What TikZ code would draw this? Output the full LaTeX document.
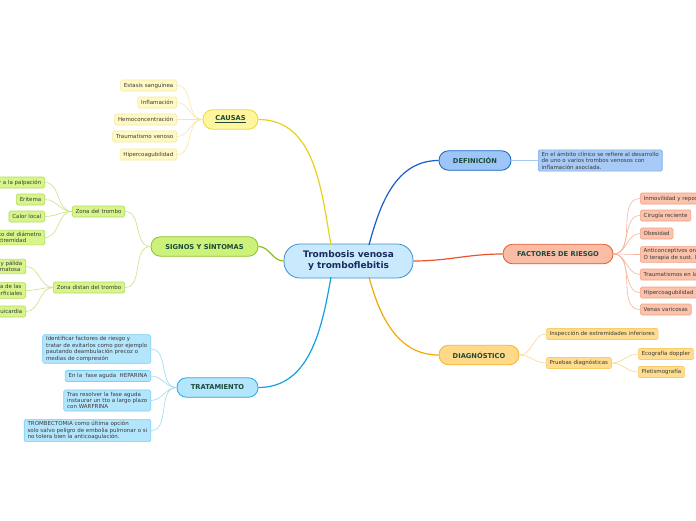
\documentclass[tikz,border=0pt]{standalone}
\usepackage{fontspec}
\setmainfont{DejaVu Sans}
\definecolor{dkgreen}{HTML}{1B4A3A}
\definecolor{navy}{HTML}{1A2A5E}
\definecolor{txt}{HTML}{3A3A3A}
% yellow
\definecolor{yB}{HTML}{FFF59D}\definecolor{yD}{HTML}{E8D84A}\definecolor{yL}{HTML}{FFF9C4}\definecolor{yLD}{HTML}{F5E9A0}\definecolor{yC}{HTML}{E6D31C}
% green
\definecolor{gB}{HTML}{CCF27A}\definecolor{gD}{HTML}{8FC22E}\definecolor{gL}{HTML}{D7F58A}\definecolor{gLD}{HTML}{B3DD5A}\definecolor{gC}{HTML}{8DBE1A}\definecolor{gLC}{HTML}{C8E288}
% cyan
\definecolor{cB}{HTML}{B3E5FC}\definecolor{cD}{HTML}{2AA8E4}\definecolor{cLD}{HTML}{7FCFF3}\definecolor{cC}{HTML}{12A0E0}\definecolor{cLC}{HTML}{9ED9F5}
% blue
\definecolor{bB}{HTML}{9EC5F7}\definecolor{bD}{HTML}{1565C0}\definecolor{bL}{HTML}{A8CAF7}\definecolor{bLD}{HTML}{78AAEE}\definecolor{bC}{HTML}{1560C8}\definecolor{bLC}{HTML}{A9C9F3}
% orange-red
\definecolor{rB}{HTML}{F9BCA5}\definecolor{rD}{HTML}{E85A2C}\definecolor{rL}{HTML}{FBC2AC}\definecolor{rLD}{HTML}{F59F80}\definecolor{rC}{HTML}{E9552A}\definecolor{rLC}{HTML}{F8B49C}
% orange
\definecolor{oB}{HTML}{FFD98A}\definecolor{oD}{HTML}{F5B52C}\definecolor{oL}{HTML}{FFDC8E}\definecolor{oLD}{HTML}{F9CB6B}\definecolor{oC}{HTML}{F5A800}\definecolor{oLC}{HTML}{FBD690}
\definecolor{cen}{HTML}{C8EAFC}\definecolor{cenD}{HTML}{3D8FD1}
\begin{document}
\begin{tikzpicture}[x=1pt,y=1pt,
  leaf/.style={draw, rounded corners=1.5pt, line width=0.6pt, inner xsep=3.4pt, inner ysep=2pt,
     minimum height=11pt, font=\fontsize{5.5}{6.4}\selectfont, align=left, text=txt},
  branch/.style={draw, rounded corners=9.5pt, line width=0.8pt, minimum height=19.5pt,
     inner xsep=2pt, font=\fontsize{6.7}{7.5}\selectfont\bfseries, text=dkgreen},
  central/.style={draw, rounded corners=16pt, line width=0.8pt, fill=cen, draw=cenD,
     minimum width=129pt, minimum height=34pt, align=center, text=navy,
     font=\fontsize{9}{11}\selectfont\bfseries},
  main/.style={line width=1.2pt},
  thin/.style={line width=0.6pt}
]
\useasboundingbox (0,0) rectangle (696,-520);
\fill[white] (0,0) rectangle (696,-520);

% central
\node[central] (c) at (348.5,-261) {Trombosis venosa\\y tromboflebitis};
\coordinate (cTL) at (331,-245);
\coordinate (cBL) at (331,-277);
\coordinate (cTR) at (369,-245);
\coordinate (cBR) at (369,-277);

% ---------- CAUSAS
\node[branch, fill=yB, draw=yD, minimum width=55pt] (causas) at (230.5,-119.5) {\underline{CAUSAS}};
\begin{scope}[every node/.style={leaf, fill=yL, draw=yLD, anchor=east}]
\node (ca1) at (177,-85.5) {Estasis sanguínea};
\node (ca2) at (177,-102.5) {Inflamación};
\node (ca3) at (177,-119.5) {Hemoconcentración};
\node (ca4) at (177,-136.5) {Traumatismo venoso};
\node (ca5) at (177,-154.5) {Hipercoagubilidad};
\end{scope}
\foreach \n in {ca1,ca2,ca3,ca4,ca5}
  \draw[thin, yLD] (causas.west) to[out=180,in=0] (\n.east);
\draw[main, yC] (causas.east) to[out=0,in=100] (cTL);

% ---------- SIGNOS
\node[branch, fill=gB, draw=gD, minimum width=107pt] (signos) at (204.5,-246.5) {SIGNOS Y SÍNTOMAS};
\node[leaf, fill=gL, draw=gLD] (zt) at (98.5,-211.5) {Zona del trombo};
\node[leaf, fill=gL, draw=gLD] (zd) at (89,-287.5) {Zona distan del trombo};
\begin{scope}[every node/.style={leaf, fill=gL, draw=gLD, anchor=east}]
\node (s1) at (45,-182.5) {Dolor a la palpación};
\node (s2) at (45,-199.5) {Eritema};
\node (s3) at (45,-216.5) {Calor local};
\node (s4) at (45,-237.5) {Aumento del diámetro\\de la extremidad};
\node (s5) at (26,-266.5) {Extremidad fría y pálida\\Extremidad edematosa};
\node (s6) at (26,-290.5) {Prominencia de las\\venas superficiales};
\node (s7) at (26,-311.5) {Taquicardia};
\end{scope}
\foreach \n in {s1,s2,s3,s4}
  \draw[thin, gLC] (zt.west) to[out=180,in=0] (\n.east);
\foreach \n in {s5,s6,s7}
  \draw[thin, gLC] (zd.west) to[out=180,in=0] (\n.east);
\draw[thin, gLC] (zt.east) to[out=0,in=180] (signos.west);
\draw[thin, gLC] (zd.east) to[out=0,in=180] (signos.west);
\draw[main, gC] (signos.east) to[out=0,in=180] (c.west);

% ---------- TRATAMIENTO
\node[branch, fill=cB, draw=cD, minimum width=81pt] (trat) at (217.5,-387.5) {TRATAMIENTO};
\begin{scope}[every node/.style={leaf, fill=cB, draw=cLD, anchor=east}]
\node (t1) at (151,-349) {Identificar factores de riesgo y\\tratar de evitarlos como por ejemplo\\pautando deambulación precoz o\\medias de compresión};
\node (t2) at (151,-376) {En la\ \ fase aguda\ \ HEPARINA};
\node (t3) at (151,-400.5) {Tras resolver la fase aguda\\instaurar un tto a largo plazo\\con WARFRINA};
\node (t4) at (151,-430.5) {TROMBECTOMIA como última opción\\solo salvo peligro de embolia pulmonar o si\\no tolera bien la anticoagulación.};
\end{scope}
\foreach \n in {t1,t2,t3,t4}
  \draw[thin, cLC] (trat.west) to[out=180,in=0] (\n.east);
\draw[main, cC] (trat.east) to[out=0,in=-100] (cBL);

% ---------- DEFINICION
\node[branch, fill=bB, draw=bD, minimum width=72pt] (def) at (475,-160.5) {DEFINICIÓN};
\node[leaf, fill=bL, draw=bLD, anchor=west] (d1) at (538,-160.5) {En el ámbito clínico se refiere al desarrollo\\de uno o varios trombos venosos con\\inflamación asociada.};
\draw[thin, bLC] (def.east) -- (d1.west);
\draw[main, bC] (cTR) to[out=75,in=180] (def.west);

% ---------- FACTORES
\node[branch, fill=rB, draw=rD, minimum width=110pt] (fac) at (558,-254) {FACTORES DE RIESGO};
\begin{scope}[every node/.style={leaf, fill=rL, draw=rLD, anchor=west}]
\node (f1) at (640,-198.5) {Inmovilidad y reposo};
\node (f2) at (640,-215.5) {Cirugía reciente};
\node (f3) at (640,-233.5) {Obesidad};
\node (f4) at (640,-254.5) {Anticonceptivos orales\\O terapia de sust. hormonal};
\node (f5) at (640,-274.5) {Traumatismos en la extremidad};
\node (f6) at (640,-292.5) {Hipercoagubilidad};
\node (f7) at (640,-309.5) {Venas varicosas};
\end{scope}
\foreach \n in {f1,f2,f3,f4,f5,f6,f7}
  \draw[thin, rLC] (fac.east) to[out=0,in=180] (\n.west);
\draw[main, rC] (c.east) to[out=0,in=180] (fac.west);

% ---------- DIAGNOSTICO
\node[branch, fill=oB, draw=oD, minimum width=80pt] (diag) at (479,-355) {DIAGNÓSTICO};
\begin{scope}[every node/.style={leaf, fill=oL, draw=oLD, anchor=west}]
\node (g1) at (546,-334) {Inspección de extremidades inferiores};
\node (g2) at (546,-363) {Pruebas diagnósticas};
\node (g3) at (638,-354) {Ecografía doppler};
\node (g4) at (638,-372) {Pletismografía};
\end{scope}
\draw[thin, oLC] (diag.east) to[out=0,in=180] (g1.west);
\draw[thin, oLC] (diag.east) to[out=0,in=180] (g2.west);
\draw[thin, oLC] (g2.east) to[out=0,in=180] (g3.west);
\draw[thin, oLC] (g2.east) to[out=0,in=180] (g4.west);
\draw[main, oC] (cBR) to[out=-75,in=180] (diag.west);
\end{tikzpicture}
\end{document}
